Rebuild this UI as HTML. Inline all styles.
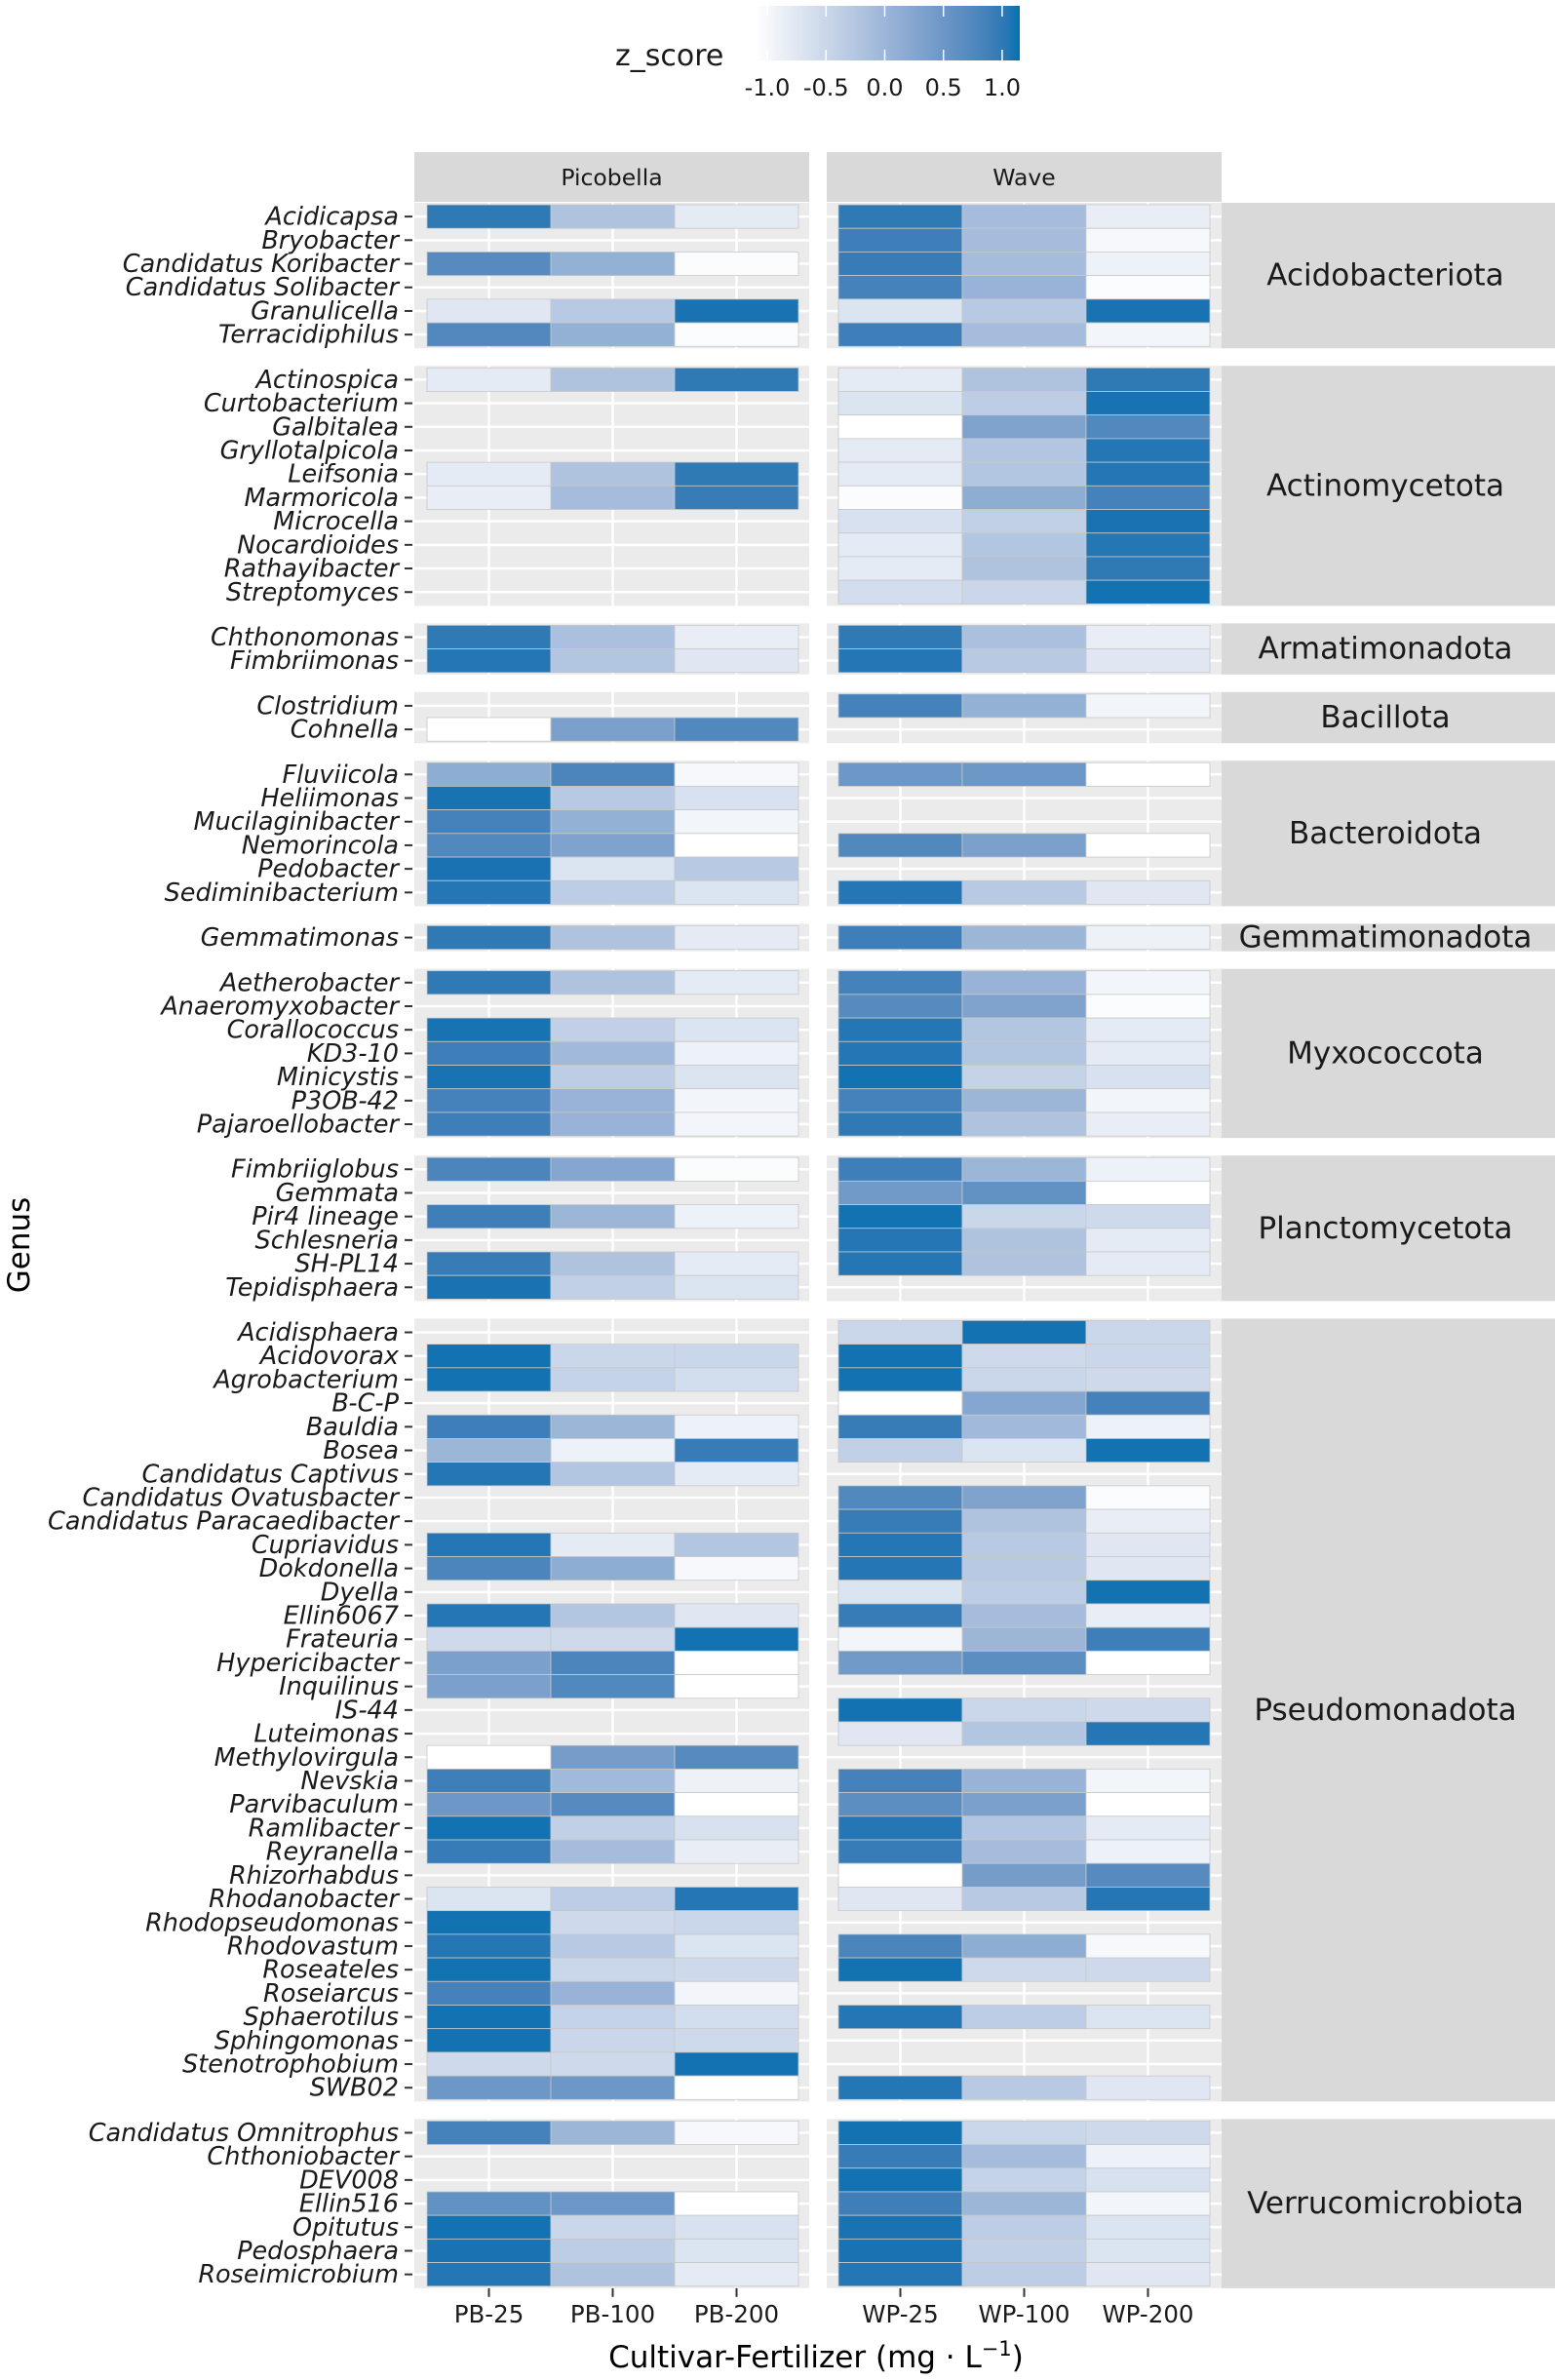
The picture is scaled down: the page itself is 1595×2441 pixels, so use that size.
<!DOCTYPE html>
<html><head><meta charset="utf-8">
<style>
html,body{margin:0;padding:0;background:#fff;}
svg{display:block;font-family:"DejaVu Sans","Liberation Sans",sans-serif;}
</style></head>
<body>
<svg id="chart" width="1595" height="2441" viewBox="0 0 1595 2441" xmlns="http://www.w3.org/2000/svg">
<defs>
<linearGradient id="cbar" x1="0" x2="1" y1="0" y2="0"></linearGradient>
</defs>
<g id="legend">
<text x="631" y="67" font-size="30" fill="#1a1a1a">z_score</text>
<rect x="775" y="6" width="271" height="56" fill="url(#cbar)"/>
<g id="cbticks"></g>
</g>
<g id="plot"></g>
<text x="837" y="2428" font-size="31" text-anchor="middle" fill="#000">Cultivar-Fertilizer (mg · L<tspan dy="-12" font-size="21">−1</tspan><tspan dy="12">)</tspan></text>
<text transform="translate(30,1277) rotate(-90)" font-size="31" text-anchor="middle" fill="#000">Genus</text>
</svg>
<script>
const phyla = ["Acidobacteriota","Actinomycetota","Armatimonadota","Bacillota","Bacteroidota","Gemmatimonadota","Myxococcota","Planctomycetota","Pseudomonadota","Verrucomicrobiota"];
const phylumSizes = [6,10,2,2,6,1,7,6,33,7];
const genera = ["Acidicapsa","Bryobacter","Candidatus Koribacter","Candidatus Solibacter","Granulicella","Terracidiphilus",
"Actinospica","Curtobacterium","Galbitalea","Gryllotalpicola","Leifsonia","Marmoricola","Microcella","Nocardioides","Rathayibacter","Streptomyces",
"Chthonomonas","Fimbriimonas",
"Clostridium","Cohnella",
"Fluviicola","Heliimonas","Mucilaginibacter","Nemorincola","Pedobacter","Sediminibacterium",
"Gemmatimonas",
"Aetherobacter","Anaeromyxobacter","Corallococcus","KD3-10","Minicystis","P3OB-42","Pajaroellobacter",
"Fimbriiglobus","Gemmata","Pir4 lineage","Schlesneria","SH-PL14","Tepidisphaera",
"Acidisphaera","Acidovorax","Agrobacterium","B-C-P","Bauldia","Bosea","Candidatus Captivus","Candidatus Ovatusbacter","Candidatus Paracaedibacter","Cupriavidus","Dokdonella","Dyella","Ellin6067","Frateuria","Hypericibacter","Inquilinus","IS-44","Luteimonas","Methylovirgula","Nevskia","Parvibaculum","Ramlibacter","Reyranella","Rhizorhabdus","Rhodanobacter","Rhodopseudomonas","Rhodovastum","Roseateles","Roseiarcus","Sphaerotilus","Sphingomonas","Stenotrophobium","SWB02",
"Candidatus Omnitrophus","Chthoniobacter","DEV008","Ellin516","Opitutus","Pedosphaera","Roseimicrobium"];
const N = null;
const pb25 = [1.0,N,0.7,N,-0.75,0.75, -0.8,N,N,N,-0.8,-0.85,N,N,N,N, 1.0,1.05, N,-1.12, 0.15,1.1,0.85,0.75,1.1,1.05, 1.0, 1.0,N,1.1,0.9,1.1,0.85,0.9, 0.8,N,0.9,N,0.95,1.1,
N,1.12,1.12,N,0.9,0.0,1.05,N,N,1.05,0.8,N,1.05,-0.55,0.35,0.35,N,N,-1.15,0.9,0.5,1.12,0.95,N,-0.7,1.12,1.05,1.12,0.85,1.12,1.12,-0.55,0.5,
0.85,N,N,0.6,1.12,1.1,1.05];
const pb100 = [-0.2,N,0.1,N,-0.3,0.1, -0.2,N,N,N,-0.2,-0.1,N,N,N,N, -0.15,-0.25, N,0.35, 0.8,-0.3,0.1,0.3,-0.7,-0.35, -0.2, -0.2,N,-0.4,-0.05,-0.35,0.05,0.05, 0.25,N,0.0,N,-0.2,-0.4,
N,-0.5,-0.45,N,0.0,-0.9,-0.25,N,N,-0.8,0.15,N,-0.25,-0.55,0.8,0.75,N,N,0.4,-0.05,0.7,-0.4,-0.1,N,-0.35,-0.55,-0.3,-0.5,0.05,-0.45,-0.5,-0.55,0.5,
0.0,N,N,0.5,-0.5,-0.35,-0.2];
const pb200 = [-0.8,N,-1.05,N,1.1,-1.05, 1.0,N,N,N,1.0,0.95,N,N,N,N, -0.85,-0.75, N,0.75, -1.0,-0.65,-0.95,-1.1,-0.3,-0.7, -0.8, -0.8,N,-0.7,-0.9,-0.7,-0.95,-0.95, -1.05,N,-0.9,N,-0.8,-0.7,
N,-0.5,-0.6,N,-0.9,0.95,-0.8,N,N,-0.25,-1.0,N,-0.75,1.12,-1.12,-1.15,N,N,0.7,-0.9,-1.15,-0.65,-0.85,N,1.05,-0.5,-0.7,-0.55,-0.95,-0.6,-0.55,1.12,-1.15,
-1.0,N,N,-1.15,-0.65,-0.7,-0.8];
const wp25 = [1.0,0.9,0.95,0.85,-0.7,0.9, -0.8,-0.7,-1.1,-0.8,-0.8,-1.05,-0.65,-0.8,-0.8,-0.6, 1.0,1.05, 0.85,N, 0.5,N,N,0.75,N,1.05, 0.9, 0.85,0.7,1.05,1.05,1.12,0.85,1.0, 0.9,0.45,1.12,1.05,1.05,N,
-0.5,1.12,1.12,-1.1,0.95,-0.4,N,0.75,0.95,1.05,1.05,-0.7,0.95,-0.95,0.45,N,1.12,-0.75,N,0.85,0.65,1.05,0.95,-1.15,-0.75,N,0.8,1.12,N,1.05,N,N,1.05,
1.12,0.95,1.12,0.9,1.1,1.1,1.05];
const wp100 = [-0.1,-0.1,-0.1,0.05,-0.3,-0.1, -0.2,-0.35,0.3,-0.25,-0.25,0.15,-0.4,-0.25,-0.2,-0.5, -0.15,-0.3, 0.1,N, 0.5,N,N,0.35,N,-0.3, 0.0, 0.05,0.3,-0.25,-0.25,-0.45,0.0,-0.2, 0.0,0.6,-0.5,-0.2,-0.2,N,
1.12,-0.55,-0.5,0.25,-0.05,-0.7,N,0.3,-0.2,-0.3,-0.3,-0.35,-0.1,0.0,0.65,N,-0.5,-0.25,N,0.05,0.35,-0.25,-0.1,0.4,-0.3,N,0.15,-0.55,N,-0.35,N,N,-0.3,
-0.5,-0.1,-0.45,0.0,-0.35,-0.4,-0.35];
const wp200 = [-0.85,-1.0,-0.9,-1.05,1.1,-0.95, 1.0,1.1,0.75,1.05,1.05,0.85,1.1,1.05,1.0,1.12, -0.85,-0.75, -0.95,N, -1.15,N,N,-1.12,N,-0.75, -0.9, -0.95,-1.05,-0.8,-0.8,-0.65,-0.95,-0.85, -0.9,-1.15,-0.55,-0.8,-0.8,N,
-0.5,-0.5,-0.55,0.85,-0.9,1.12,N,-1.05,-0.85,-0.75,-0.75,1.12,-0.85,0.9,-1.15,N,-0.55,1.05,N,-0.95,-1.15,-0.8,-0.9,0.7,1.05,N,-1.0,-0.55,N,-0.7,N,N,-0.75,
-0.55,-0.9,-0.65,-0.95,-0.7,-0.7,-0.75];
const xLabelsPB = ["PB-25","PB-100","PB-200"];
const xLabelsWP = ["WP-25","WP-100","WP-200"];
const legendTicks = [-1.0,-0.5,0.0,0.5,1.0];

const NS = "http://www.w3.org/2000/svg";
const plot = document.getElementById('plot');
function mk(tag, attrs, parent){ const e=document.createElementNS(NS,tag); for(const k in attrs) e.setAttribute(k,attrs[k]); (parent||plot).appendChild(e); return e; }
const vMin=-1.1, vMax=1.15;
// Lab interpolation (like ggplot/scales)
function s2l(c){c/=255;return c<=0.04045?c/12.92:Math.pow((c+0.055)/1.055,2.4);}
function l2s(c){const v=c<=0.0031308?12.92*c:1.055*Math.pow(c,1/2.4)-0.055;return Math.round(Math.max(0,Math.min(1,v))*255);}
function toLab(r,g,b){r=s2l(r);g=s2l(g);b=s2l(b);
 let x=(r*0.4124+g*0.3576+b*0.1805)/0.95047,y=(r*0.2126+g*0.7152+b*0.0722),z=(r*0.0193+g*0.1192+b*0.9505)/1.08883;
 const f=t=>t>0.008856?Math.cbrt(t):7.787*t+16/116;x=f(x);y=f(y);z=f(z);
 return [116*y-16,500*(x-y),200*(y-z)];}
function fromLab(L,a,b){let y=(L+16)/116,x=a/500+y,z=y-b/200;
 const fi=t=>t*t*t>0.008856?t*t*t:(t-16/116)/7.787;x=fi(x)*0.95047;y=fi(y);z=fi(z)*1.08883;
 const r=x*3.2406+y*-1.5372+z*-0.4986,g=x*-0.9689+y*1.8758+z*0.0415,bb=x*0.0557+y*-0.2040+z*1.0570;
 return [l2s(r),l2s(g),l2s(bb)];}
const LOW=toLab(255,255,255), HIGH=toLab(5,112,176);
function colorT(t){t=Math.max(0,Math.min(1,t));const c=fromLab(LOW[0]+(HIGH[0]-LOW[0])*t,LOW[1]+(HIGH[1]-LOW[1])*t,LOW[2]+(HIGH[2]-LOW[2])*t);return `rgb(${c[0]},${c[1]},${c[2]})`;}
function color(v){ return colorT((v-vMin)/(vMax-vMin)); }
const grad=document.getElementById('cbar');
for(let i=0;i<=20;i++){ mk('stop',{offset:i/20,'stop-color':colorT(i/20)},grad); }
const legX = v => 775 + (v-vMin)/(vMax-vMin)*271;
const cbt = document.getElementById('cbticks');
legendTicks.forEach(v=>{
  const x=legX(v);
  const a=mk('line',{x1:x,x2:x,y1:6,y2:17,stroke:'#fff','stroke-width':1.5},cbt);
  
  
  const b=mk('line',{x1:x,x2:x,y1:51,y2:62,stroke:'#fff','stroke-width':1.5},cbt);
  
  
  const t=mk('text',{x:x,y:98,'font-size':24,'text-anchor':'middle',fill:'#1a1a1a'},cbt);
  
  
  t.textContent=v.toFixed(1);
});

const P=24.21, PAD=2, GAP=18, TOP=208;
const panels=[{x0:425,x1:830,t0:438,cols:[pb25,pb100,pb200],labels:xLabelsPB,name:'Picobella'},
              {x0:848,x1:1253,t0:860,cols:[wp25,wp100,wp200],labels:xLabelsWP,name:'Wave'}];
const CW=127;
panels.forEach(p=>{
  const s=mk('rect',{x:p.x0,y:156,width:p.x1-p.x0,height:51,fill:'#d9d9d9'});
  
  
  const t=mk('text',{x:(p.x0+p.x1)/2,y:190,'font-size':23.5,'text-anchor':'middle',fill:'#1a1a1a'});
  
  
  t.textContent=p.name;
});
let y=TOP, gi=0;
phyla.forEach((ph,k)=>{
  const n=phylumSizes[k], h=n*P+2*PAD;
  panels.forEach(p=>{
    const bg=mk('rect',{x:p.x0,y:y,width:p.x1-p.x0,height:h,fill:'#ebebeb'});
    
    
    for(let c=0;c<3;c++){
      const cx=p.t0+CW*(c+0.5);
      const l=mk('line',{x1:cx,x2:cx,y1:y,y2:y+h,stroke:'#fff','stroke-width':2.5});
      
      
    }
    for(let r=0;r<n;r++){
      const cy=y+PAD+P*(r+0.5);
      const l=mk('line',{x1:p.x0,x2:p.x1,y1:cy,y2:cy,stroke:'#fff','stroke-width':2.5});
      
      
    }
    for(let r=0;r<n;r++){
      const idx=gi+r;
      for(let c=0;c<3;c++){
        const v=p.cols[c][idx];
        if(v===null||v===undefined) continue;
        const cell=mk('rect',{x:p.t0+CW*c,y:y+PAD+P*r,width:CW,height:P,fill:color(v),stroke:'#c8c8c8','stroke-width':0.8});
        
        
      }
    }
  });
  const st=mk('rect',{x:1253,y:y,width:342,height:h,fill:'#d9d9d9'});
  
  
  const pt=mk('text',{x:1421,y:y+h/2+10,'font-size':31,'text-anchor':'middle',fill:'#1a1a1a'});
  
  
  pt.textContent=ph;
  for(let r=0;r<n;r++){
    const cy=y+PAD+P*(r+0.5);
    const tk=mk('line',{x1:415,x2:423,y1:cy,y2:cy,stroke:'#333','stroke-width':2});
    
    
    const lb=mk('text',{x:409,y:cy+8.5,'font-size':25.5,'font-style':'italic','text-anchor':'end',fill:'#1a1a1a'});
    
    
    lb.textContent=genera[gi+r];
  }
  gi+=n; y+=h+GAP;
});
const bottom=y-GAP;
panels.forEach(p=>{
  p.labels.forEach((lab,c)=>{
    const cx=p.t0+CW*(c+0.5);
    const tk=mk('line',{x1:cx,x2:cx,y1:bottom,y2:bottom+9,stroke:'#333','stroke-width':2});
    
    
    const t=mk('text',{x:cx,y:2382,'font-size':24.5,'text-anchor':'middle',fill:'#1a1a1a'});
    
    
    t.textContent=lab;
  });
});
</script>
</body></html>
